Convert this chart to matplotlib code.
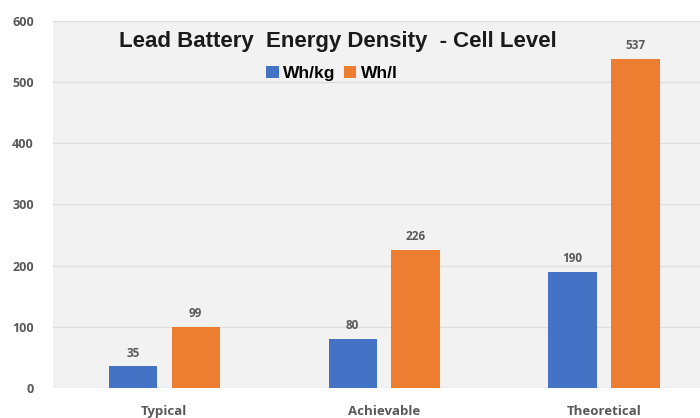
import matplotlib.pyplot as plt
import numpy as np

categories = ["Typical", "Achievable", "Theoretical"]
wh_per_kg = [35, 80, 190]
wh_per_l = [99, 226, 537]
series_names = ["Wh/kg", "Wh/l"]
y_ticks = [0, 100, 200, 300, 400, 500, 600]

blue = "#4472C4"
orange = "#ED7D31"
label_grey = "#595959"

fig = plt.figure(figsize=(7, 4.18), dpi=100)
ax = fig.add_axes([0.076, 0.072, 0.924, 0.878])
ax.set_facecolor("#f2f2f2")

x = np.arange(len(categories))
width = 0.22
offset = 0.143
b1 = ax.bar(x - offset, wh_per_kg, width, color=blue, label=series_names[0], zorder=3)
b2 = ax.bar(x + offset, wh_per_l, width, color=orange, label=series_names[1], zorder=3)

# value labels above the bars
for bars in (b1, b2):
    for rect in bars:
        h = rect.get_height()
        ax.annotate(f"{h:.0f}", (rect.get_x() + rect.get_width() / 2, h),
                    xytext=(0, 5), textcoords="offset points",
                    ha="center", va="bottom", fontsize=8.5, fontweight="bold",
                    color=label_grey, family="Open Sans")

ax.set_xlim(-0.505, 2.436)
ax.set_ylim(0, 600)
ax.set_yticks(y_ticks)
ax.set_xticks(x)
ax.set_xticklabels(categories)
ax.yaxis.grid(True, color="#dedede", linewidth=1, zorder=0)
ax.set_axisbelow(True)

for spine in ax.spines.values():
    spine.set_visible(False)
ax.tick_params(length=0)
ax.tick_params(axis="y", pad=14)
ax.tick_params(axis="x", pad=12)
for lbl in ax.get_yticklabels():
    lbl.set_fontsize(9)
for lbl in ax.get_xticklabels():
    lbl.set_fontsize(9.5)
for lbl in ax.get_yticklabels() + ax.get_xticklabels():
    lbl.set_fontweight("bold")
    lbl.set_color(label_grey)
    lbl.set_family("Open Sans")

ax.text(0.44, 0.929, "Lead Battery  Energy Density  - Cell Level",
        transform=ax.transAxes, ha="center", va="baseline",
        fontsize=16, fontweight="bold", color="#1a1a1a", family="Liberation Sans")

leg = ax.legend(loc="center", bbox_to_anchor=(0.431, 0.856), ncol=2,
                frameon=False, handlelength=0.7, handleheight=0.7,
                handletextpad=0.25, columnspacing=0.5,
                prop={"family": "Liberation Sans", "weight": "bold", "size": 12.5})

fig.savefig("out.png", dpi=100)
